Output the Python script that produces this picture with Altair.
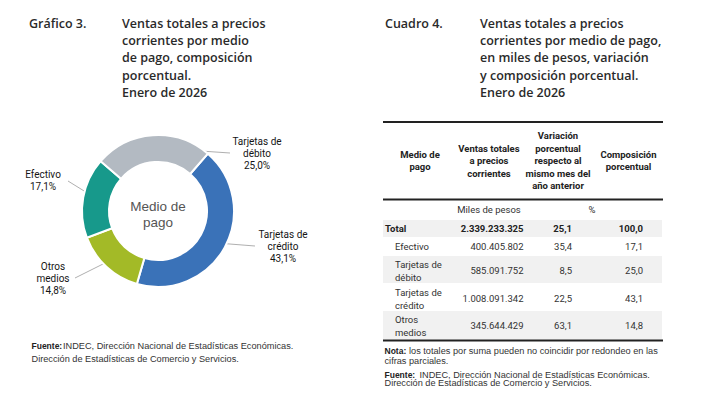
import math
import altair as alt
import pandas as pd

# ---------------- data ----------------
medios_graf = ["Tarjetas de crédito", "Otros medios", "Efectivo", "Tarjetas de débito"]
comp_graf = [43.1, 14.8, 17.1, 25.0]
colores_graf = ["#3a72b8", "#a3ba27", "#17998b", "#b3bac2"]
etiq_graf = [["Tarjetas de", "crédito"], ["Otros", "medios"], ["Efectivo"], ["Tarjetas de", "débito"]]
centro_texto = ["Medio de", "pago"]

filas_tabla = [["Total"], ["Efectivo"], ["Tarjetas de", "débito"], ["Tarjetas de", "crédito"], ["Otros", "medios"]]
ventas = [2339233325, 400405802, 585091752, 1008091342, 345644429]
variacion = [25.1, 35.4, 8.5, 22.5, 63.1]
composicion = [100.0, 17.1, 25.0, 43.1, 14.8]

encabezados = [["Medio de", "pago"],
               ["Ventas totales", "a precios", "corrientes"],
               ["Variación", "porcentual", "respecto al", "mismo mes del", "año anterior"],
               ["Composición", "porcentual"]]
unidades = ["Miles de pesos", "%"]

titulo_izq_num = "Gráfico 3."
titulo_izq = ["Ventas totales a precios", "corrientes por medio", "de pago, composición", "porcentual.", "Enero de 2026"]
titulo_der_num = "Cuadro 4."
titulo_der = ["Ventas totales a precios", "corrientes por medio de pago,", "en miles de pesos, variación",
              "y composición porcentual.", "Enero de 2026"]
fuente = ["INDEC, Dirección Nacional de Estadísticas Económicas.", "Dirección de Estadísticas de Comercio y Servicios."]
nota = ["los totales por suma pueden no coincidir por redondeo en las", "cifras parciales."]


def miles(n):
    return f"{n:,}".replace(",", ".")


def dec(v):
    return f"{v:.1f}".replace(".", ",")


# ---------------- layout (image pixel coordinates) ----------------
W, H = 695, 383
XS = alt.Scale(domain=[8, 8 + W], range=[0, W], zero=False, nice=False)
YS = alt.Scale(domain=[8, 8 + H], range=[0, H], zero=False, nice=False)

CX, CY, R_OUT, R_IN = 158, 211, 76, 49
START = math.radians(41)
lbl_pos = [(283, 235), (53, 267), (43, 175), (257, 142)]
lbl_step = 11.8
leaders = [((217, 243), (255, 246)), ((117, 257), (75, 278)), ((97, 199), (68, 181)), ((157, 148), (230, 153))]

TITLE_Y0, TITLE_STEP = 24, 17.2
T_LEFT = 383
T_RIGHT = 663
rule_ys = [122, 199.5, 340.5]
hdr_x = [420, 489, 558, 628.5]
hdr_center = 161
hdr_step = 12.5
unit_x = [489, 592]
unit_y = 210
row_y = [228.5, 247, 271, 299, 326]
row_band = [(220, 237), (237, 256), (256, 283), (283, 311), (311, 340)]
row_step = 13
lab_x = [385, 395, 395, 395, 395]
col_right = [523.5, 572, 643]

# ---------------- helpers ----------------
FONT_T = "Open Sans"
FONT_N = "Roboto"
FONT_S = "Liberation Sans"


def pos():
    return dict(x=alt.X("x:Q", scale=XS, axis=None), y=alt.Y("y:Q", scale=YS, axis=None))


def text_layer(rows, **props):
    df = pd.DataFrame(rows, columns=["x", "y", "t"])
    return alt.Chart(df).mark_text(baseline="middle", **props).encode(text="t:N", **pos())


def seg_layer(df, **props):
    return alt.Chart(df).mark_rule(**props).encode(
        x=alt.X("x:Q", scale=XS, axis=None), x2="x2:Q",
        y=alt.Y("y:Q", scale=YS, axis=None), y2="y2:Q")


layers = []

# row shading
shade = pd.DataFrame([{"x": T_LEFT, "x2": T_RIGHT - 1, "y": row_band[i][0], "y2": row_band[i][1]}
                      for i in range(len(filas_tabla)) if i % 2 == 0])
layers.append(alt.Chart(shade).mark_rect(color="#f1f1f1").encode(
    x=alt.X("x:Q", scale=XS, axis=None), x2="x2:Q",
    y=alt.Y("y:Q", scale=YS, axis=None), y2="y2:Q"))

# table rules
rules = pd.DataFrame([{"x": T_LEFT, "x2": T_RIGHT, "y": y, "y2": y} for y in rule_ys])
layers.append(seg_layer(rules, color="#222222", strokeWidth=1.8))

# leader lines
lead = pd.DataFrame([{"x": a[0], "y": a[1], "x2": b[0], "y2": b[1]} for a, b in leaders])
layers.append(seg_layer(lead, color="#9a9a9a", strokeWidth=0.8))

# donut
donut = pd.DataFrame({"medio": medios_graf, "valor": comp_graf, "orden": list(range(len(medios_graf)))})
layers.append(alt.Chart(donut).mark_arc(outerRadius=R_OUT, innerRadius=R_IN, stroke="white", strokeWidth=2).encode(
    theta=alt.Theta("valor:Q", stack=True, scale=alt.Scale(range=[START, START + 2 * math.pi])),
    color=alt.Color("medio:N", scale=alt.Scale(domain=medios_graf, range=colores_graf), legend=None),
    order=alt.Order("orden:Q"),
    x=alt.value(CX - 8), y=alt.value(CY - 8)))

# donut labels
dl = []
for (lx, ly), lines, v in zip(lbl_pos, etiq_graf, comp_graf):
    for k, s in enumerate(lines + [dec(v) + "%"]):
        dl.append((lx, ly + k * lbl_step, s))
layers.append(text_layer(dl, font=FONT_N, fontSize=10, color="#151515", align="center"))

# donut center text
layers.append(text_layer([(CX, 207 + 15.5 * k, s) for k, s in enumerate(centro_texto)],
                         font=FONT_S, fontSize=13.5, color="#555555", align="center"))

# titles
tt = [(29, TITLE_Y0, titulo_izq_num), (385, TITLE_Y0, titulo_der_num)]
for k, s in enumerate(titulo_izq):
    tt.append((122, TITLE_Y0 + k * TITLE_STEP, s))
for k, s in enumerate(titulo_der):
    tt.append((480, TITLE_Y0 + k * TITLE_STEP, s))
layers.append(text_layer(tt, font=FONT_T, fontSize=12.5, fontWeight=600, color="#2a2a2a", align="left"))

# table header
hh = []
for cx, lines in zip(hdr_x, encabezados):
    y0 = hdr_center - (len(lines) - 1) * hdr_step / 2
    for k, s in enumerate(lines):
        hh.append((cx, y0 + k * hdr_step, s))
layers.append(text_layer(hh, font=FONT_N, fontSize=9.5, fontWeight="bold", color="#222222", align="center"))
layers.append(text_layer([(x, unit_y, s) for x, s in zip(unit_x, unidades)],
                         font=FONT_N, fontSize=9.5, color="#333333", align="center"))

# table body labels
lb_bold, lb_reg = [], []
for i, lines in enumerate(filas_tabla):
    y0 = row_y[i] - (len(lines) - 1) * row_step / 2
    for k, s in enumerate(lines):
        (lb_bold if i == 0 else lb_reg).append((lab_x[i], y0 + k * row_step, s))
layers.append(text_layer(lb_bold, font=FONT_N, fontSize=9.5, fontWeight="bold", color="#222222", align="left"))
layers.append(text_layer(lb_reg, font=FONT_N, fontSize=9.5, color="#333333", align="left"))

# table body values
vb, vr = [], []
for i in range(len(filas_tabla)):
    vals = [miles(ventas[i]), dec(variacion[i]), dec(composicion[i])]
    for cx, s in zip(col_right, vals):
        (vb if i == 0 else vr).append((cx, row_y[i], s))
layers.append(text_layer(vb, font=FONT_N, fontSize=9.5, fontWeight="bold", color="#222222", align="right"))
layers.append(text_layer(vr, font=FONT_N, fontSize=9.5, color="#333333", align="right"))

# footnotes
fb = [(31.5, 345.5, "Fuente:"), (384.5, 350.5, "Nota:"), (384.5, 374.5, "Fuente:")]
fr = [(63, 345.5, fuente[0]), (31.5, 359, fuente[1]),
      (409, 350.5, nota[0]), (384.5, 361, nota[1]),
      (419.5, 374.5, fuente[0]), (384.5, 383, fuente[1])]
layers.append(text_layer(fb, font=FONT_S, fontSize=8.5, fontWeight="bold", color="#222222", align="left"))
layers.append(text_layer(fr, font=FONT_S, fontSize=9.2, color="#333333", align="left"))

chart = alt.layer(*layers).properties(
    width=W, height=H, autosize=alt.AutoSizeParams(type="none"), padding=0
).configure_view(stroke=None)

chart.save("out.html", embed_options={"renderer": "svg", "actions": False})
